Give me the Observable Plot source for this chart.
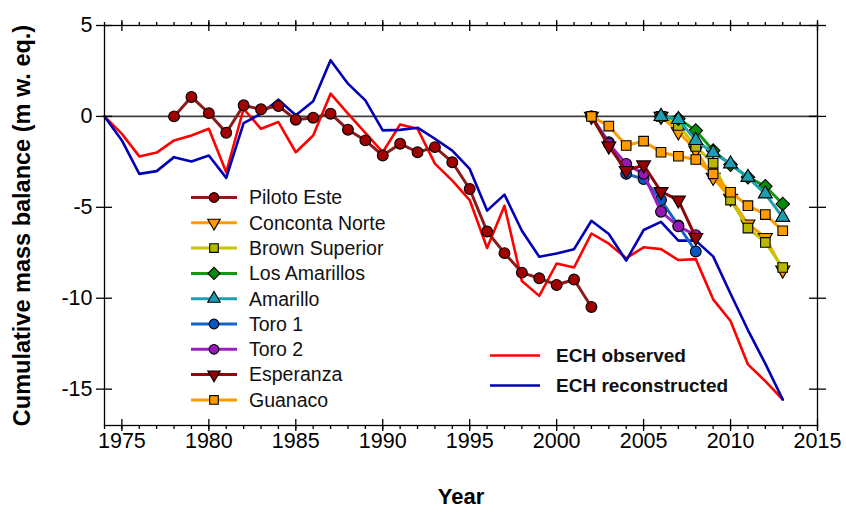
<!DOCTYPE html>
<html><head><meta charset="utf-8">
<script src="https://cdn.jsdelivr.net/npm/d3@7"></script>
<script src="https://cdn.jsdelivr.net/npm/@observablehq/plot@0.6"></script>
<style>
body{margin:0;background:#fff;}
#chart{position:relative;width:846px;height:512px;font-family:"Liberation Sans",Arial,sans-serif;}
#legend{position:absolute;left:0;top:0;pointer-events:none;}
</style></head><body><div id="chart"></div>
<script>
// ---------- data ----------
const echYears = [1974,1975,1976,1977,1978,1979,1980,1981,1982,1983,1984,1985,1986,1987,1988,1989,1990,1991,1992,1993,1994,1995,1996,1997,1998,1999,2000,2001,2002,2003,2004,2005,2006,2007,2008,2009,2010,2011,2012,2013];
const echObserved = [0,-0.96,-2.2,-1.99,-1.32,-1.05,-0.68,-3.07,0.42,-0.68,-0.31,-1.97,-1.05,1.25,0.15,-0.9,-1.97,-0.44,-0.68,-2.6,-3.53,-4.6,-7.24,-4.91,-9.05,-9.87,-8.09,-8.31,-6.44,-7.0,-7.8,-7.2,-7.3,-7.9,-7.85,-10.06,-11.25,-13.64,-14.56,-15.57];
const echReconstructed = [0,-1.32,-3.16,-3.01,-2.24,-2.48,-2.15,-3.38,-0.37,0.15,0.92,0.06,0.84,3.09,1.8,0.88,-0.77,-0.74,-0.62,-1.23,-1.88,-2.89,-5.18,-4.3,-6.29,-7.72,-7.54,-7.3,-5.74,-6.47,-7.93,-6.25,-5.8,-6.83,-6.83,-7.7,-9.75,-11.75,-13.6,-15.57];

const glacierNames = ["Piloto Este","Conconta Norte","Brown Superior","Los Amarillos","Amarillo","Toro 1","Toro 2","Esperanza","Guanaco"];

const pilotoEsteYears = [1978,1979,1980,1981,1982,1983,1984,1985,1986,1987,1988,1989,1990,1991,1992,1993,1994,1995,1996,1997,1998,1999,2000,2001,2002];
const pilotoEsteValues = [0,1.07,0.18,-0.9,0.61,0.39,0.57,-0.18,-0.07,0.15,-0.73,-1.32,-2.15,-1.5,-1.97,-1.69,-2.52,-3.99,-6.33,-7.52,-8.59,-8.9,-9.27,-8.97,-10.48];
const concontaNorteYears = [2006,2007,2008,2009,2010,2011,2012,2013];
const concontaNorteValues = [0,-0.85,-1.85,-3.35,-4.5,-5.92,-6.66,-8.45];
const brownSuperiorYears = [2006,2007,2008,2009,2010,2011,2012,2013];
const brownSuperiorValues = [0,-0.5,-1.65,-2.58,-4.6,-6.14,-6.93,-8.31];
const losAmarillosYears = [2006,2007,2008,2009,2010,2011,2012,2013];
const losAmarillosValues = [0,-0.13,-0.78,-1.88,-2.65,-3.35,-3.84,-4.82];
const amarilloYears = [2006,2007,2008,2009,2010,2011,2012,2013];
const amarilloValues = [0,-0.17,-1.32,-2.0,-2.61,-3.35,-4.26,-5.55];
const toro1Years = [2002,2003,2004,2005,2006,2007,2008];
const toro1Values = [0,-1.42,-3.16,-3.44,-4.6,-6.0,-7.43];
const toro2Years = [2002,2003,2004,2005,2006,2007,2008];
const toro2Values = [0,-1.5,-2.61,-3.16,-5.24,-6.05,-6.53];
const esperanzaYears = [2002,2003,2004,2005,2006,2007,2008];
const esperanzaValues = [0,-1.63,-2.98,-2.67,-4.14,-4.6,-6.66];
const guanacoYears = [2002,2003,2004,2005,2006,2007,2008,2009,2010,2011,2012,2013];
const guanacoValues = [0,-0.53,-1.6,-1.36,-1.97,-2.19,-2.37,-3.16,-4.17,-4.91,-5.4,-6.29];

const xMajorTicks = [1975,1980,1985,1990,1995,2000,2005,2010,2015];
const xMinorTicks = [1974,1975,1976,1977,1978,1979,1980,1981,1982,1983,1984,1985,1986,1987,1988,1989,1990,1991,1992,1993,1994,1995,1996,1997,1998,1999,2000,2001,2002,2003,2004,2005,2006,2007,2008,2009,2010,2011,2012,2013,2014,2015];
const yTicks = [5,0,-5,-10,-15];
const xTitle = "Year";
const yTitle = "Cumulative mass balance (m w. eq.)";
const echNames = ["ECH observed","ECH reconstructed"];

// ---------- styles ----------
const glacierStyle = {
  "Piloto Este":    {line:"#8c1c1c", fill:"#a00000", symbol:"circle",   rotate:0,   r:5.4},
  "Conconta Norte": {line:"#ff9a00", fill:"#ff9a00", symbol:"triangle", rotate:180, r:5.2},
  "Brown Superior": {line:"#c4c400", fill:"#b8b800", symbol:"square",   rotate:0,   r:5.4},
  "Los Amarillos":  {line:"#119a11", fill:"#0a8a0a", symbol:"square",   rotate:45,  r:5.4},
  "Amarillo":       {line:"#1ea0b4", fill:"#1e9cb0", symbol:"triangle", rotate:0,   r:5.2},
  "Toro 1":         {line:"#1464c8", fill:"#0a56c0", symbol:"circle",   rotate:0,   r:5.4},
  "Toro 2":         {line:"#9a1ec0", fill:"#9418b4", symbol:"circle",   rotate:0,   r:5.4},
  "Esperanza":      {line:"#8c0a0a", fill:"#960000", symbol:"triangle", rotate:180, r:5.2},
  "Guanaco":        {line:"#ff9a00", fill:"#ff9a00", symbol:"square",   rotate:0,   r:5.4}
};
const echStyle = {"ECH observed":"#ff0000","ECH reconstructed":"#0000b4"};

const glaciers = [
  {name:glacierNames[0], years:pilotoEsteYears, values:pilotoEsteValues},
  {name:glacierNames[1], years:concontaNorteYears, values:concontaNorteValues},
  {name:glacierNames[2], years:brownSuperiorYears, values:brownSuperiorValues},
  {name:glacierNames[3], years:losAmarillosYears, values:losAmarillosValues},
  {name:glacierNames[4], years:amarilloYears, values:amarilloValues},
  {name:glacierNames[5], years:toro1Years, values:toro1Values},
  {name:glacierNames[6], years:toro2Years, values:toro2Values},
  {name:glacierNames[7], years:esperanzaYears, values:esperanzaValues},
  {name:glacierNames[8], years:guanacoYears, values:guanacoValues}
];
const echRows = echYears.map((yr,i)=>({year:yr, observed:echObserved[i], reconstructed:echReconstructed[i]}));

// ---------- layout ----------
const W = 846, H = 512, mL = 104, mR = 29, mT = 25, mB = 87;
const innerW = W - mL - mR, innerH = H - mT - mB;
const font = "Liberation Sans, Arial, Helvetica, sans-serif";

const glacierMarks = glaciers.flatMap(g => {
  const st = glacierStyle[g.name];
  const rows = g.years.map((yr,i)=>({year:yr, value:g.values[i]}));
  return [
    Plot.line(rows, {x:"year", y:"value", stroke:st.line, strokeWidth:3}),
    Plot.dot(rows, {x:"year", y:"value", symbol:st.symbol, rotate:st.rotate, r:st.r, fill:st.fill, stroke:"#000", strokeWidth:1.1})
  ];
});

const chart = Plot.plot({
  width: W, height: H,
  marginLeft: mL, marginRight: mR, marginTop: mT, marginBottom: mB,
  x: {domain:[1974,2015], label:null},
  y: {domain:[-17,5], label:null},
  style: {fontFamily: font, fontSize: "21px", color:"#000", background:"#fff", overflow:"visible"},
  marks: [
    Plot.ruleY([0], {stroke:"#3c3c3c", strokeWidth:1.7}),
    Plot.line(echRows, {x:"year", y:"observed", stroke:echStyle["ECH observed"], strokeWidth:2.6}),
    Plot.line(echRows, {x:"year", y:"reconstructed", stroke:echStyle["ECH reconstructed"], strokeWidth:2.6}),
    ...glacierMarks,
    Plot.frame({stroke:"#000", strokeWidth:1.3}),
    // bottom axis
    Plot.axisX(xMajorTicks, {anchor:"bottom", tickSize:0, tickPadding:7, tickFormat:d=>String(d), label:null, fontSize:21.5}),
    Plot.axisX(xMajorTicks, {anchor:"bottom", tickSize:6, fill:"none", label:null, strokeWidth:1.3}),
    Plot.axisX(xMinorTicks, {anchor:"bottom", tickSize:4, fill:"none", label:null, strokeWidth:1.3}),
    Plot.ruleX(xMajorTicks, {x:d=>d, insetTop:innerH-6, stroke:"#000", strokeWidth:1.3}),
    // top axis
    Plot.axisX(xMajorTicks, {anchor:"top", tickSize:6, fill:"none", label:null, strokeWidth:1.3}),
    Plot.axisX(xMinorTicks, {anchor:"top", tickSize:4, fill:"none", label:null, strokeWidth:1.3}),
    Plot.ruleX(xMajorTicks, {x:d=>d, insetBottom:innerH-6, stroke:"#000", strokeWidth:1.3}),
    // left axis
    Plot.axisY(yTicks, {anchor:"left", tickSize:8, tickPadding:4, tickFormat:d=>String(d), label:null, fontSize:21.5, strokeWidth:1.3}),
    Plot.ruleY(yTicks, {y:d=>d, insetRight:innerW-8, stroke:"#000", strokeWidth:1.3}),
    // right axis
    Plot.axisY(yTicks, {anchor:"right", tickSize:8, fill:"none", label:null, strokeWidth:1.3}),
    Plot.ruleY(yTicks, {y:d=>d, insetLeft:innerW-8, stroke:"#000", strokeWidth:1.3}),
    // titles
    Plot.text([xTitle], {text:d=>d, frameAnchor:"bottom", dy:78, fontSize:22, fontWeight:"bold"}),
    Plot.text([yTitle], {text:d=>d, frameAnchor:"left", textAnchor:"middle", lineAnchor:"middle", dx:-82, rotate:-90, fontSize:23.5, fontWeight:"bold"})
  ]
});
document.getElementById("chart").appendChild(chart);

// ---------- legend overlay ----------
const symbolMap = {circle:d3.symbolCircle, triangle:d3.symbolTriangle, square:d3.symbolSquare};
const legend = d3.select("#chart").append("svg").attr("id","legend").attr("width",W).attr("height",H)
  .style("font-family", font);
glaciers.forEach((g,i) => {
  const st = glacierStyle[g.name];
  const y = 197.5 + i*25.3;
  legend.append("line").attr("x1",191).attr("x2",237).attr("y1",y).attr("y2",y)
    .attr("stroke",st.line).attr("stroke-width",3);
  legend.append("path").attr("d", d3.symbol(symbolMap[st.symbol], Math.PI*st.r*st.r*0.8)())
    .attr("transform",`translate(214,${y}) rotate(${st.rotate})`)
    .attr("fill",st.fill).attr("stroke","#000").attr("stroke-width",1.1);
  legend.append("text").attr("x",249).attr("y",y).attr("dy","0.35em").attr("font-size",19.5).attr("fill","#111").text(g.name);
});
echNames.forEach((n,i) => {
  const y = 355.5 + i*30;
  legend.append("line").attr("x1",490).attr("x2",540).attr("y1",y).attr("y2",y)
    .attr("stroke",echStyle[n]).attr("stroke-width",2.6);
  legend.append("text").attr("x",556).attr("y",y).attr("dy","0.35em").attr("font-size",19)
    .attr("font-weight","bold").attr("fill","#111").text(n);
});
</script></body></html>
